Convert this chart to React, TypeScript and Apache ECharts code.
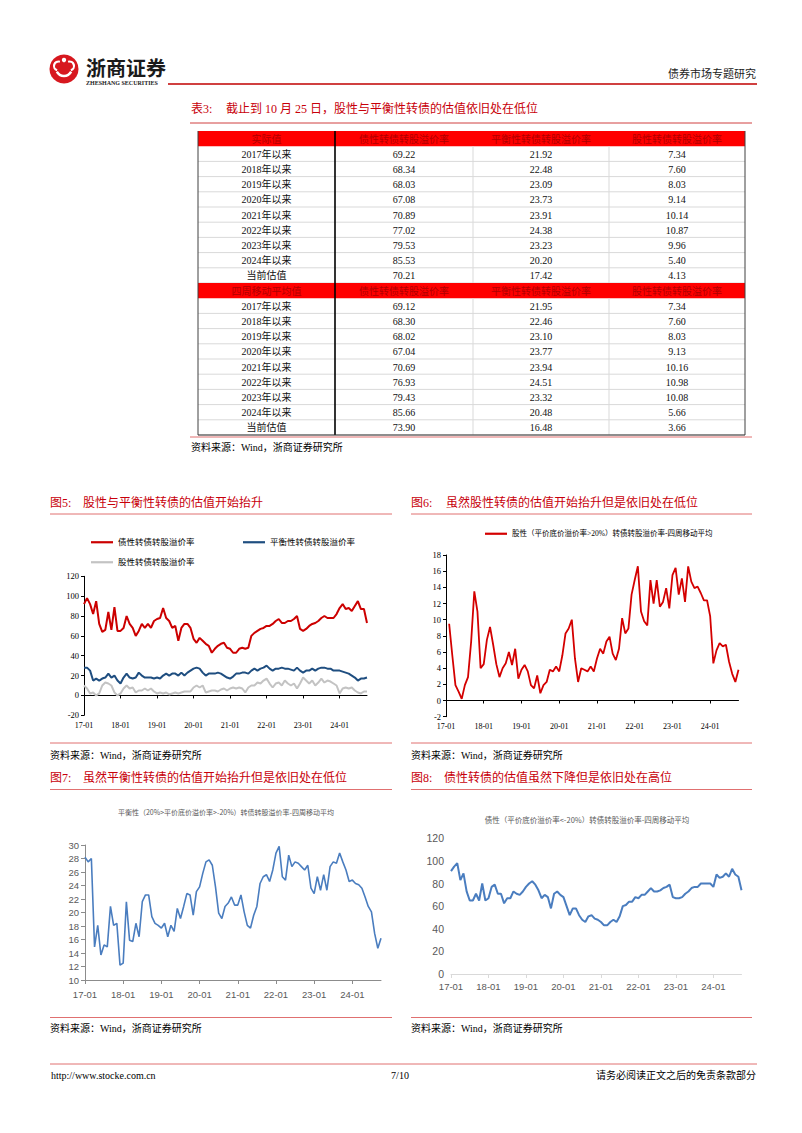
import React, { useEffect, useRef } from 'react';
import * as echarts from 'echarts';

// ---------- categories ----------
const monthLabels: string[] = [];
for (let y = 17; y <= 24; y++) {
  for (let m = 1; m <= 12; m++) {
    if (y === 24 && m > 10) break;
    monthLabels.push(`${y}-${String(m).padStart(2, '0')}`);
  }
}

// ---------- table data ----------
const tablePeriods = ['2017年以来', '2018年以来', '2019年以来', '2020年以来', '2021年以来', '2022年以来', '2023年以来', '2024年以来', '当前估值'];
const tableHeads = ['债性转债转股溢价率', '平衡性转债转股溢价率', '股性转债转股溢价率'];
const actualBond = [69.22, 68.34, 68.03, 67.08, 70.89, 77.02, 79.53, 85.53, 70.21];
const actualBalanced = [21.92, 22.48, 23.09, 23.73, 23.91, 24.38, 23.23, 20.2, 17.42];
const actualEquity = [7.34, 7.6, 8.03, 9.14, 10.14, 10.87, 9.96, 5.4, 4.13];
const maBond = [69.12, 68.3, 68.02, 67.04, 70.69, 76.93, 79.43, 85.66, 73.9];
const maBalanced = [21.95, 22.46, 23.1, 23.77, 23.94, 24.51, 23.32, 20.48, 16.48];
const maEquity = [7.34, 7.6, 8.03, 9.13, 10.16, 10.98, 10.08, 5.66, 3.66];

// ---------- chart 5 (daily, sampled monthly) ----------
const fig5Bond = [92, 98, 92, 82, 95, 72, 64, 66, 84, 66, 89, 65,
  65, 68, 80, 72, 68, 60, 65, 72, 68, 72, 68, 75,
  77, 78, 88, 78, 75, 68, 70, 55, 68, 72, 72, 68,
  57, 53, 58, 55, 52, 50, 43, 47, 50, 52, 53, 48,
  47, 43, 43, 47, 48, 47, 48, 60, 63, 65, 67, 68,
  70, 70, 72, 75, 77, 73, 73, 75, 75, 77, 80, 67,
  65, 67, 70, 72, 73, 75, 78, 80, 78, 78, 78, 82,
  88, 92, 87, 88, 85, 90, 95, 87, 87, 73];
const fig5Balanced = [28, 28, 25, 15, 17, 15, 17, 18, 22, 18, 20, 15,
  12, 18, 22, 18, 17, 18, 23, 20, 18, 18, 18, 17,
  18, 17, 20, 22, 20, 22, 22, 20, 23, 20, 23, 25,
  27, 28, 27, 23, 20, 22, 22, 22, 23, 22, 20, 18,
  17, 19, 22, 22, 23, 23, 22, 25, 27, 25, 27, 28,
  30, 27, 25, 27, 27, 28, 27, 27, 26, 25, 28, 25,
  23, 25, 25, 27, 25, 27, 28, 28, 27, 27, 25, 25,
  25, 24, 23, 22, 20, 18, 15, 17, 17, 18];
const fig5Equity = [10, 7, 2, 3, 0, 2, 10, 13, 12, 10, 3, 0,
  2, 7, 10, 7, 8, 3, 5, 5, 7, 5, 7, 4,
  2, 3, 2, 3, 1, 2, 3, 2, 3, 4, 4, 4,
  8, 10, 8, 10, 3, 4, 5, 5, 4, 6, 7, 5,
  7, 8, 7, 8, 7, 3, 8, 10, 10, 13, 12, 15,
  17, 12, 8, 12, 13, 10, 15, 12, 10, 12, 7, 12,
  18, 15, 12, 15, 10, 13, 17, 13, 15, 14, 12, 10,
  2, 7, 8, 7, 8, 5, 3, 2, 4, 4];

// ---------- chart 6 ----------
const fig6Equity = [null, 9.5, 5.6, 1.9, 1.1, 0.2, 1.9, 2.9, 7.3, 13.5, 11, 4,
  4.5, 7.5, 9.1, 6.9, 4.5, 2.9, 4.0, 4.6, 6.0, 4.4, 6.4, 2.7,
  3.8, 4.4, 3.6, 1.9, 1.5, 3.1, 0.9, 1.9, 2.3, 3.8, 3.6, 4.2,
  3.6, 5.6, 8.3, 8.9, 10.0, 5.2, 2.3, 4.0, 3.8, 3.6, 4.2, 3.6,
  5.2, 6.4, 5.8, 7.3, 7.9, 5.8, 5.0, 6.4, 10.2, 8.3, 8.9, 13.1,
  14.9, 16.6, 11, 9.8, 9.3, 14.9, 12, 14.9, 11.6, 12.2, 13.9, 11.4,
  15.5, 16.4, 13.1, 15.1, 12.2, 16.6, 14.7, 13.9, 14.1, 13.3, 12.4, 12.4,
  10.4, 4.6, 6.2, 7.1, 6.7, 6.9, 4.8, 3.3, 2.3, 3.8];

// ---------- chart 7 ----------
const fig7Balanced = [28.2, 27.5, 28.0, 14.9, 18.1, 13.7, 15.2, 14.9, 20.9, 18.1, 18.4, 12.2,
  12.5, 21.6, 15.9, 15.7, 18.4, 16.4, 21.6, 22.6, 22.6, 19.4, 18.4, 18.1,
  17.7, 18.4, 16.4, 18.1, 17.2, 20.6, 19.1, 20.9, 22.8, 22.6, 19.6, 23.1,
  23.8, 25.8, 27.5, 27.8, 27.0, 23.8, 19.9, 19.1, 20.9, 21.4, 22.3, 21.1,
  21.1, 22.6, 20.1, 18.1, 17.7, 19.6, 20.9, 24.3, 25.3, 25.6, 24.6, 26.3,
  28.8, 29.8, 25.3, 24.8, 28.5, 26.8, 27.5, 27.3, 26.8, 26.3, 27.0, 23.6,
  22.8, 25.3, 23.3, 25.6, 23.3, 26.8, 27.5, 27.3, 28.8, 27.5, 26.3, 24.6,
  24.8, 24.3, 24.1, 23.6, 22.3, 20.9, 20.1, 16.9, 14.7, 16.2];

// ---------- chart 8 ----------
const fig8Bond = [91, 95, 98, 83, 89, 73, 65, 65, 71, 65, 80, 65,
  67, 77, 79, 71, 71, 62.5, 67, 67, 73, 71, 70, 73,
  77, 80, 82, 79, 74, 67, 70, 68, 58, 71, 73, 70,
  68, 60, 52, 58, 58, 52, 48, 46, 51, 52, 49, 48,
  46, 43, 43, 46, 48, 46, 51, 60, 61, 64, 64, 68,
  67, 70, 70, 73, 76, 73, 73, 74, 76, 77, 79, 68,
  67, 67, 68, 71, 73, 76, 77, 77, 80, 80, 80, 80,
  77, 88, 85, 86, 89, 86, 93, 88, 86, 74];

const NAME_BOND = '债性转债转股溢价率';
const NAME_BAL = '平衡性转债转股溢价率';
const NAME_EQ = '股性转债转股溢价率';
const NAME_6 = '股性（平价底价溢价率>20%）转债转股溢价率-四周移动平均';
const NAME_7 = '平衡性（20%>平价底价溢价率>-20%）转债转股溢价率-四周移动平均';
const NAME_8 = '债性（平价底价溢价率<-20%）转债转股溢价率-四周移动平均';
const SOURCE = '资料来源：Wind，浙商证券研究所';

const SERIF = '"Liberation Serif", "Times New Roman", "Noto Sans CJK SC", serif';
const CJK = '"Noto Sans CJK SC", sans-serif';
const SANS = '"Liberation Sans", Arial, "Noto Sans CJK SC", sans-serif';
const TITLE_RED = '#c8000a';
const RULE_RED = '#e07070';

function txt(x: number, y: number, text: string, o: any = {}) {
  return {
    type: 'text', x, y, silent: true,
    style: {
      text, fill: o.fill || '#000', fontSize: o.size || 10, fontFamily: o.font || SERIF,
      fontWeight: o.weight || 'normal', align: o.align || 'left', verticalAlign: 'middle',
    },
  };
}
function ln(x1: number, y1: number, x2: number, y2: number, stroke: string, lw = 1) {
  return { type: 'line', silent: true, shape: { x1, y1, x2, y2 }, style: { stroke, lineWidth: lw } };
}

function buildGraphics() {
  const g: any[] = [];
  // header
  g.push({ type: 'circle', silent: true, shape: { cx: 64, cy: 69, r: 14.5 }, style: { fill: '#d7181f' } });
  g.push({ type: 'arc', silent: true, shape: { cx: 64, cy: 68, r: 8, startAngle: Math.PI * 0.15, endAngle: Math.PI * 0.85 }, style: { stroke: '#fff', lineWidth: 2.4, fill: null } });
  g.push({ type: 'arc', silent: true, shape: { cx: 58.5, cy: 66, r: 4.5, startAngle: Math.PI * 0.6, endAngle: Math.PI * 1.6 }, style: { stroke: '#fff', lineWidth: 2.2, fill: null } });
  g.push({ type: 'arc', silent: true, shape: { cx: 69.5, cy: 66, r: 4.5, startAngle: Math.PI * 1.4, endAngle: Math.PI * 2.4 }, style: { stroke: '#fff', lineWidth: 2.2, fill: null } });
  g.push({ type: 'circle', silent: true, shape: { cx: 64, cy: 60, r: 2.2 }, style: { fill: '#fff' } });
  g.push(txt(86, 67, '浙商证券', { size: 20, weight: 'bold', font: CJK, fill: '#1a1a1a' }));
  g.push(txt(86, 83, 'ZHESHANG SECURITIES', { size: 6, weight: 'bold', fill: '#222' }));
  g.push(ln(168, 84, 757, 84, '#c00000', 1.5));
  g.push(txt(756, 73, '债券市场专题研究', { size: 11, font: CJK, align: 'right', fill: '#222' }));

  // table title
  g.push(txt(191, 108.5, '表3:', { size: 12, fill: TITLE_RED }));
  g.push(txt(226, 108.5, '截止到 10 月 25 日，股性与平衡性转债的估值依旧处在低位', { size: 12, fill: TITLE_RED }));
  g.push(ln(190, 123, 752, 123, '#d04040', 1));

  // table
  const colX = [198, 335, 473, 609, 745];
  const top = 131, rh = 15.2;
  const rows: { head: boolean; cells: string[] }[] = [];
  rows.push({ head: true, cells: ['实际值', ...tableHeads] });
  tablePeriods.forEach((p, i) => rows.push({ head: false, cells: [p, actualBond[i].toFixed(2), actualBalanced[i].toFixed(2), actualEquity[i].toFixed(2)] }));
  rows.push({ head: true, cells: ['四周移动平均值', ...tableHeads] });
  tablePeriods.forEach((p, i) => rows.push({ head: false, cells: [p, maBond[i].toFixed(2), maBalanced[i].toFixed(2), maEquity[i].toFixed(2)] }));
  const bottom = top + rows.length * rh;
  rows.forEach((r, ri) => {
    const y = top + ri * rh;
    if (r.head) {
      g.push({ type: 'rect', silent: true, shape: { x: colX[0], y, width: colX[4] - colX[0], height: rh }, style: { fill: '#ff0000' } });
    } else {
      g.push(ln(colX[0], y + rh, colX[4], y + rh, '#d9d9d9', 1));
      g.push(ln(colX[2], y, colX[2], y + rh, '#d9d9d9', 1));
      g.push(ln(colX[3], y, colX[3], y + rh, '#d9d9d9', 1));
    }
    r.cells.forEach((c, ci) => {
      const cx = (colX[ci] + colX[ci + 1]) / 2;
      g.push(txt(cx, y + rh / 2 + 0.5, c, { size: 10, align: 'center', fill: r.head ? '#b00000' : '#111' }));
    });
  });
  g.push(ln(colX[1], top, colX[1], bottom, '#000', 1.6));
  g.push(ln(colX[0], top, colX[0], bottom, '#404040', 1));
  g.push(ln(colX[4], top, colX[4], bottom, '#404040', 1));
  g.push(ln(colX[0], bottom, colX[4], bottom, '#303030', 1.2));
  g.push(ln(190, bottom + 2, 752, bottom + 2, RULE_RED, 1));
  g.push(txt(191, 447, SOURCE, { size: 10 }));

  // figure titles & rules
  const figTitles = [
    { x: 50, bx: 83, y: 503, label: '图5:', body: '股性与平衡性转债的估值开始抬升' },
    { x: 411, bx: 446, y: 503, label: '图6:', body: '虽然股性转债的估值开始抬升但是依旧处在低位' },
    { x: 50, bx: 83, y: 777.5, label: '图7:', body: '虽然平衡性转债的估值开始抬升但是依旧处在低位' },
    { x: 411, bx: 444, y: 777.5, label: '图8:', body: '债性转债的估值虽然下降但是依旧处在高位' },
  ];
  figTitles.forEach((f) => {
    g.push(txt(f.x, f.y, f.label, { size: 12, fill: TITLE_RED }));
    g.push(txt(f.bx, f.y, f.body, { size: 12, fill: TITLE_RED }));
  });
  const spans = [[50, 392], [411, 752]];
  [514, 743, 789.5, 1017.5].forEach((yy) => spans.forEach(([a, b]) => g.push(ln(a, yy, b, yy, RULE_RED, 1))));
  spans.forEach(([a]) => {
    g.push(txt(a, 755, SOURCE, { size: 10 }));
    g.push(txt(a, 1028, SOURCE, { size: 10 }));
  });

  // chart titles for 7 and 8
  g.push(txt(226, 811.5, NAME_7, { size: 7, font: CJK, align: 'center', fill: '#595959' }));
  g.push(txt(587, 819, NAME_8, { size: 7.5, font: CJK, align: 'center', fill: '#595959' }));

  // footer
  g.push(ln(50, 1064, 757, 1064, RULE_RED, 1));
  g.push(txt(51, 1075, 'http://www.stocke.com.cn', { size: 10 }));
  g.push(txt(400, 1075, '7/10', { size: 10, align: 'center' }));
  g.push(txt(756, 1075, '请务必阅读正文之后的免责条款部分', { size: 10, align: 'right' }));
  return g;
}

function serifX(gi: number, margin: number) {
  return {
    gridIndex: gi, type: 'category', data: monthLabels, boundaryGap: false,
    axisLine: { onZero: true, lineStyle: { color: '#000', width: 1 } },
    axisTick: { show: true, interval: 11, length: 3, lineStyle: { color: '#000' } },
    axisLabel: { interval: 11, fontSize: 8, fontFamily: SERIF, color: '#000', margin },
    splitLine: { show: false },
  };
}
function serifY(gi: number, min: number, max: number, interval: number) {
  return {
    gridIndex: gi, type: 'value', min, max, interval,
    axisLine: { show: true, lineStyle: { color: '#000', width: 1 } },
    axisTick: { show: true, length: 3, lineStyle: { color: '#000' } },
    axisLabel: { fontSize: 8.5, fontFamily: SERIF, color: '#000', margin: 5 },
    splitLine: { show: false },
  };
}

function legendAt(name: string, left: number, top: number, size: number, w = 22) {
  return {
    data: [{ name, icon: 'rect' }], left, top, padding: 0, itemWidth: w, itemHeight: 2.2,
    textStyle: { fontSize: size, fontFamily: SERIF, color: '#000' },
  };
}

const option: any = {
  animation: false,
  backgroundColor: '#ffffff',
  grid: [
    { left: 84, top: 576.3, width: 283, height: 139 },
    { left: 446, top: 555, width: 292.5, height: 161.7 },
    { left: 85, top: 845, width: 296, height: 135 },
    { left: 451, top: 838.3, width: 290.5, height: 135.7 },
  ],
  xAxis: [
    serifX(0, 6),
    serifX(1, 6),
    {
      gridIndex: 2, type: 'category', data: monthLabels, boundaryGap: false,
      axisLine: { lineStyle: { color: '#8c8c8c', width: 1 } },
      axisTick: { show: true, interval: 11, length: 4, lineStyle: { color: '#8c8c8c' } },
      axisLabel: { interval: 11, fontSize: 9.5, fontFamily: SANS, color: '#595959', margin: 10 },
      splitLine: { show: false },
    },
    {
      gridIndex: 3, type: 'category', data: monthLabels, boundaryGap: false,
      axisLine: { lineStyle: { color: '#d9d9d9', width: 1 } },
      axisTick: { show: true, interval: 11, length: 4, lineStyle: { color: '#d9d9d9' } },
      axisLabel: { interval: 11, fontSize: 9.5, fontFamily: SANS, color: '#595959', margin: 8 },
      splitLine: { show: false },
    },
  ],
  yAxis: [
    serifY(0, -20, 120, 20),
    serifY(1, -2, 18, 2),
    {
      gridIndex: 2, type: 'value', min: 10, max: 30, interval: 2,
      axisLine: { show: true, lineStyle: { color: '#8c8c8c' } },
      axisTick: { show: true, length: 4, lineStyle: { color: '#8c8c8c' } },
      axisLabel: { fontSize: 9.5, fontFamily: SANS, color: '#595959', margin: 6 },
      splitLine: { show: false },
    },
    {
      gridIndex: 3, type: 'value', min: 0, max: 120, interval: 20,
      axisLine: { show: false }, axisTick: { show: false },
      axisLabel: { fontSize: 10.5, fontFamily: SANS, color: '#595959', margin: 7 },
      splitLine: { show: false },
    },
  ],
  legend: [
    legendAt(NAME_BOND, 91, 538, 8.5),
    legendAt(NAME_BAL, 243, 538, 8.5),
    legendAt(NAME_EQ, 91, 558, 8.5),
    legendAt(NAME_6, 485, 530, 7.5),
  ],
  series: [
    { name: NAME_EQ, type: 'line', xAxisIndex: 0, yAxisIndex: 0, data: fig5Equity, symbol: 'none', lineStyle: { color: '#c3c3c3', width: 2 }, itemStyle: { color: '#c3c3c3' } },
    { name: NAME_BAL, type: 'line', xAxisIndex: 0, yAxisIndex: 0, data: fig5Balanced, symbol: 'none', lineStyle: { color: '#1f4e80', width: 2 }, itemStyle: { color: '#1f4e80' } },
    { name: NAME_BOND, type: 'line', xAxisIndex: 0, yAxisIndex: 0, data: fig5Bond, symbol: 'none', lineStyle: { color: '#cc0000', width: 2 }, itemStyle: { color: '#cc0000' } },
    { name: NAME_6, type: 'line', xAxisIndex: 1, yAxisIndex: 1, data: fig6Equity, symbol: 'none', lineStyle: { color: '#d40000', width: 1.8 }, itemStyle: { color: '#d40000' } },
    { name: NAME_7, type: 'line', xAxisIndex: 2, yAxisIndex: 2, data: fig7Balanced, symbol: 'none', lineStyle: { color: '#4a7dbf', width: 1.6 }, itemStyle: { color: '#4a7dbf' } },
    { name: NAME_8, type: 'line', xAxisIndex: 3, yAxisIndex: 3, data: fig8Bond, symbol: 'none', lineStyle: { color: '#4a7dbf', width: 2 }, itemStyle: { color: '#4a7dbf' } },
  ],
  graphic: { elements: buildGraphics() },
};

export default function App() {
  const ref = useRef<HTMLDivElement>(null);
  useEffect(() => {
    if (!ref.current) return;
    const chart = echarts.init(ref.current, null, { renderer: 'svg', width: 802, height: 1133 });
    chart.setOption(option);
    return () => chart.dispose();
  }, []);
  return (
    <div
      ref={ref}
      style={{ position: 'absolute', left: 0, top: 0, width: 802, height: 1133, background: '#fff' }}
    />
  );
}
